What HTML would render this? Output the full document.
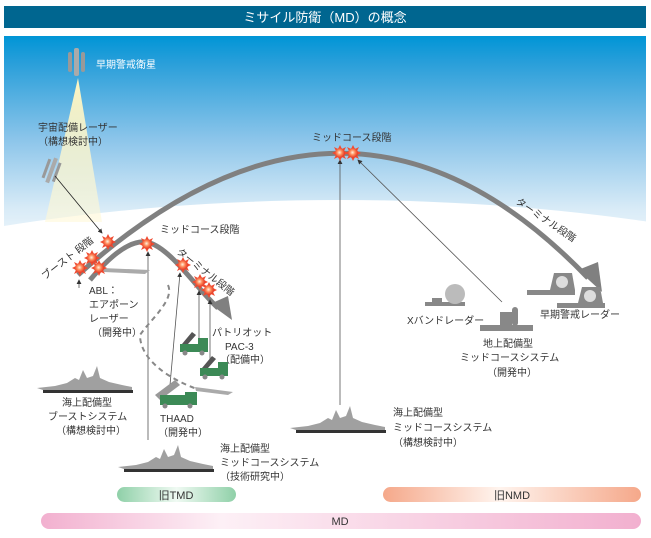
<!DOCTYPE html>
<html><head><meta charset="utf-8"><style>
html,body{margin:0;padding:0;background:#fff;width:651px;height:538px;overflow:hidden;}
svg{display:block;}
text{font-family:"Liberation Sans","Noto Sans CJK JP",sans-serif;font-size:10px;fill:#333;}
</style></head><body>
<svg width="651" height="538" viewBox="0 0 651 538" xmlns="http://www.w3.org/2000/svg">
<defs>
<linearGradient id="sky" x1="0" y1="0" x2="0" y2="1">
<stop offset="0" stop-color="#0095d6"/>
<stop offset="0.12" stop-color="#2a9fda"/>
<stop offset="0.45" stop-color="#8cc5ea"/>
<stop offset="0.75" stop-color="#d8ebf7"/>
<stop offset="1" stop-color="#ffffff"/>
</linearGradient>
<linearGradient id="beam" x1="0" y1="0" x2="0" y2="1">
<stop offset="0" stop-color="#fff6c0" stop-opacity="1"/>
<stop offset="1" stop-color="#fff8d8" stop-opacity="0.6"/>
</linearGradient>
<linearGradient id="tmd" x1="0" y1="0" x2="1" y2="0">
<stop offset="0" stop-color="#8fd0a8"/><stop offset="0.5" stop-color="#f0faf3"/><stop offset="1" stop-color="#8fd0a8"/>
</linearGradient>
<linearGradient id="nmd" x1="0" y1="0" x2="1" y2="0">
<stop offset="0" stop-color="#f5a88a"/><stop offset="0.45" stop-color="#fff4ee"/><stop offset="1" stop-color="#f5a88a"/>
</linearGradient>
<linearGradient id="md" x1="0" y1="0" x2="1" y2="0">
<stop offset="0" stop-color="#f2b0cf"/><stop offset="0.3" stop-color="#fdf0f6"/><stop offset="1" stop-color="#f2b0cf"/>
</linearGradient>
<radialGradient id="ex" cx="0.45" cy="0.45" r="0.5">
<stop offset="0" stop-color="#fff3e0"/><stop offset="0.5" stop-color="#ff8a5a"/><stop offset="1" stop-color="#e8402a"/>
</radialGradient>
<g id="boom"><polygon points="0,-8 2,-4 6,-6 4,-2 8,0 4,2 6,6 2,4 0,8 -2,4 -6,6 -4,2 -8,0 -4,-2 -6,-6 -2,-4" fill="#f04a30"/><circle r="5" fill="url(#ex)"/></g>
<g id="ship"><polygon points="0,0 18,-2 30,-5 38,-10 42,-8 46,-18 50,-10 56,-12 60,-22 63,-10 72,-6 85,-3 95,-1 95,2 6,2" fill="#a0a0a0"/><rect x="6" y="2" width="90" height="3" fill="#333"/></g>
<g id="truck"><rect x="0" y="0" width="18" height="8" fill="#3c8a56"/><rect x="18" y="-6" width="10" height="14" fill="#3c8a56"/><polygon points="2,0 12,-12 16,-9 8,0" fill="#555"/><circle cx="5" cy="9" r="2.5" fill="#888"/><circle cx="22" cy="9" r="2.5" fill="#888"/></g>
<marker id="ar" markerWidth="6" markerHeight="6" refX="5" refY="3" orient="auto"><path d="M0,0 L6,3 L0,6z" fill="#333"/></marker>
</defs>
<rect x="4" y="6" width="642" height="22" fill="#006690"/>
<text x="325" y="22" text-anchor="middle" style="font-size:13px;fill:#fff">ミサイル防衛（MD）の概念</text>
<rect x="4" y="36" width="642" height="230" fill="url(#sky)"/>
<ellipse cx="340" cy="560" rx="900" ry="360" fill="#fff"/>
<polygon points="78,78 45,222 102,222" fill="url(#beam)"/>
<rect x="68" y="52" width="4" height="20" rx="2" fill="#999"/><rect x="74" y="48" width="5" height="28" rx="2" fill="#aaa"/><rect x="81" y="52" width="4" height="20" rx="2" fill="#999"/>
<text x="96" y="68" style="fill:#fff">早期警戒衛星</text>
<text x="38" y="131">宇宙配備レーザー</text>
<text x="38" y="145">（構想検討中）</text>
<g transform="translate(45,168) rotate(20)"><rect x="0" y="-10" width="3" height="20" fill="#999"/><rect x="5" y="-13" width="4" height="26" fill="#aaa"/><rect x="11" y="-10" width="3" height="20" fill="#999"/></g>
<line x1="55" y1="176" x2="102" y2="233" stroke="#222" stroke-width="0.8" marker-end="url(#ar)"/>
<path d="M78,275 Q 350,30 588,278" fill="none" stroke="#808080" stroke-width="5"/>
<polygon points="578,270 598,262 602,292" fill="#808080"/>
<path d="M90,280 C 115,250 135,238 150,243 C 172,250 198,290 218,308" fill="none" stroke="#808080" stroke-width="5"/>
<polygon points="210,304 228,296 232,320" fill="#808080"/>
<line x1="148" y1="440" x2="148" y2="252" stroke="#555" stroke-width="0.8" marker-end="url(#ar)"/>
<line x1="170" y1="385" x2="180" y2="273" stroke="#555" stroke-width="0.8" marker-end="url(#ar)"/>
<line x1="199" y1="340" x2="199" y2="291" stroke="#555" stroke-width="0.8" marker-end="url(#ar)"/>
<line x1="210" y1="362" x2="210" y2="300" stroke="#555" stroke-width="0.8" marker-end="url(#ar)"/>
<line x1="340" y1="405" x2="340" y2="160" stroke="#555" stroke-width="0.8" marker-end="url(#ar)"/>
<line x1="502" y1="302" x2="358" y2="160" stroke="#555" stroke-width="0.8" marker-end="url(#ar)"/>
<line x1="125" y1="272" x2="100" y2="268" stroke="#555" stroke-width="0.8" marker-end="url(#ar)"/>
<line x1="79" y1="288" x2="79" y2="280" stroke="#555" stroke-width="0.8" marker-end="url(#ar)"/>
<path d="M168,285 C 175,300 150,320 140,335 C 140,360 170,380 200,390" fill="none" stroke="#888" stroke-width="2" stroke-dasharray="5,4"/>
<path d="M102,268 L150,270 L145,274 L104,272z" fill="#aaa"/>
<path d="M195,387 L233,392 L228,395 L196,391z" fill="#aaa"/>
<use href="#boom" x="108" y="242"/><use href="#boom" x="92" y="258"/><use href="#boom" x="80" y="268"/><use href="#boom" x="99" y="268"/>
<use href="#boom" x="147" y="244"/><use href="#boom" x="183" y="265"/><use href="#boom" x="200" y="282"/><use href="#boom" x="209" y="290"/>
<use href="#boom" x="340" y="153"/><use href="#boom" x="353" y="153"/>
<text x="0" y="0" transform="translate(45,280) rotate(-38)">ブースト 段階</text>
<text x="160" y="233">ミッドコース段階</text>
<text x="0" y="0" transform="translate(176,253) rotate(38)">ターミナル段階</text>
<text x="0" y="0" transform="translate(515,203) rotate(34)">ターミナル段階</text>
<text x="312" y="141">ミッドコース段階</text>
<text x="89" y="294">ABL：</text><text x="89" y="308">エアポーン</text><text x="89" y="322">レーザー</text><text x="92" y="336">（開発中）</text>
<text x="212" y="336">パトリオット</text><text x="225" y="350">PAC-3</text><text x="220" y="363">（配備中）</text>
<use href="#truck" x="180" y="344"/><use href="#truck" x="200" y="368"/>
<g transform="translate(160,400)"><polygon points="-5,-5 15,-20 20,-15 0,0" fill="#999"/><rect x="0" y="-5" width="25" height="10" fill="#3c8a56"/><rect x="25" y="-8" width="12" height="13" fill="#3c8a56"/><circle cx="5" cy="6" r="2.5" fill="#888"/><circle cx="30" cy="6" r="2.5" fill="#888"/></g>
<text x="160" y="422">THAAD</text><text x="158" y="436">（開発中）</text>
<use href="#ship" x="37" y="388"/>
<text x="62" y="406">海上配備型</text><text x="48" y="420">ブーストシステム</text><text x="56" y="434">（構想検討中）</text>
<use href="#ship" x="118" y="467"/>
<text x="220" y="452">海上配備型</text><text x="220" y="466">ミッドコースシステム</text><text x="220" y="480">（技術研究中）</text>
<use href="#ship" x="290" y="428"/>
<text x="393" y="416">海上配備型</text><text x="393" y="431">ミッドコースシステム</text><text x="393" y="446">（構想検討中）</text>
<rect x="425" y="302" width="40" height="4" fill="#888"/><rect x="432" y="298" width="10" height="4" fill="#888"/><circle cx="455" cy="294" r="10" fill="#bbb"/>
<text x="407" y="324">Xバンドレーダー</text>
<rect x="480" y="325" width="53" height="6" fill="#888"/><rect x="500" y="312" width="12" height="14" fill="#888"/><rect x="512" y="307" width="6" height="19" rx="3" fill="#888"/>
<text x="483" y="347">地上配備型</text><text x="460" y="361">ミッドコースシステム</text><text x="487" y="376">（開発中）</text>
<rect x="527" y="290" width="48" height="5" fill="#888"/><polygon points="550,290 554,273 572,273 575,290" fill="#888"/><circle cx="562" cy="282" r="6" fill="#ddd"/>
<rect x="557" y="303" width="48" height="5" fill="#888"/><polygon points="578,303 582,287 600,287 603,303" fill="#888"/><circle cx="590" cy="296" r="6" fill="#ddd"/>
<text x="540" y="318">早期警戒レーダー</text>
<rect x="117" y="487" width="119" height="15" rx="7.5" fill="url(#tmd)"/>
<text x="176" y="499" text-anchor="middle" style="font-size:11px">旧TMD</text>
<rect x="383" y="487" width="258" height="15" rx="7.5" fill="url(#nmd)"/>
<text x="512" y="499" text-anchor="middle" style="font-size:11px">旧NMD</text>
<rect x="41" y="513" width="600" height="16" rx="8" fill="url(#md)"/>
<text x="340" y="525" text-anchor="middle" style="font-size:11px">MD</text>
</svg>
</body></html>
